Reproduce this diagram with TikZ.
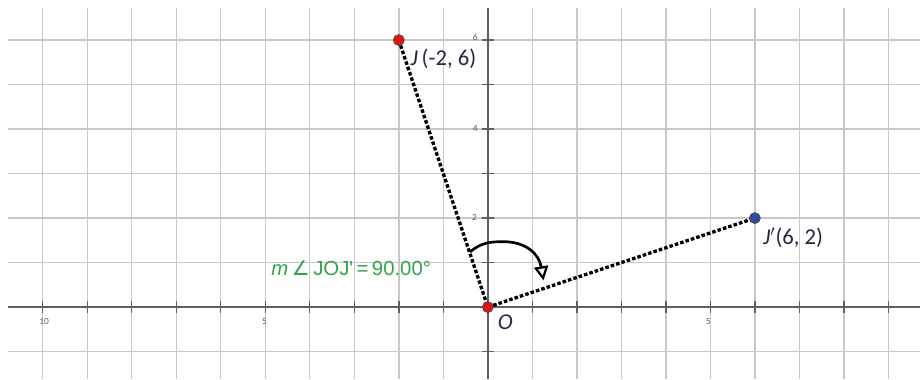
\documentclass[tikz,border=0pt]{standalone}
\usepackage{fontspec}
\setmainfont{Carlito}
\newfontfamily\arialf{Liberation Sans}
\newfontfamily\dejavuf{DejaVu Sans}
\usetikzlibrary{arrows.meta}
\definecolor{gridgray}{RGB}{200,200,200}
\definecolor{axisgray}{RGB}{95,95,95}
\definecolor{labcol}{RGB}{40,40,65}
\definecolor{measgreen}{RGB}{50,165,80}
\definecolor{ptred}{RGB}{225,20,20}
\definecolor{ptblue}{RGB}{45,75,160}
\tikzset{
  gridline/.style={gridgray, line width=0.9pt},
  axisline/.style={axisgray, line width=0.9pt},
  ticklab/.style={font=\fontsize{6}{6}\selectfont, text=axisgray, inner sep=0pt},
  ptlab/.style={font=\fontsize{14.5}{15}\selectfont, text=labcol, inner sep=0pt, anchor=west},
  segment/.style={black, line width=2.1pt, dash pattern=on 2.3pt off 1.3pt},
  dotnode/.style={circle, draw=black!70, line width=0.5pt, inner sep=0pt, minimum size=7pt},
}
\begin{document}
\begin{tikzpicture}[x=1cm,y=1cm]
\useasboundingbox (-10.96,-1.62) rectangle (9.71,6.90);
\fill[white] (-10.96,-1.62) rectangle (9.71,6.90);
% grid
\foreach \x in {-10,...,9} \draw[gridline] (\x,-1.62) -- (\x,6.72);
\foreach \y in {-1,...,6} \draw[gridline] (-10.78,\y) -- (9.71,\y);
% axes
\draw[axisline] (-10.78,0) -- (9.71,0);
\draw[axisline] (0,-1.62) -- (0,6.72);
\foreach \x in {-10,...,9} \draw[axisline] (\x,-0.13) -- (\x,0.13);
\foreach \y in {-1,...,6} \draw[axisline] (-0.13,\y) -- (0.13,\y);
% tick labels
\node[ticklab] (tm10) at (-9.97,-0.33) {10};
\node[ticklab] (tm5) at (-5.02,-0.33) {5};
\node[ticklab] (tp5) at (4.95,-0.33) {5};
\node[ticklab] (ty6) at (-0.28,6.06) {6};
\node[ticklab] (ty4) at (-0.28,4.02) {4};
\node[ticklab] (ty2) at (-0.30,2.02) {2};
% points
\coordinate (J) at (-2,6);
\coordinate (O) at (0,0);
\coordinate (Jp) at (6,2);
\draw[segment] (J) -- (O);
\draw[segment] (O) -- (Jp);
\node[dotnode, fill=ptred] (Jdot) at (J) {};
\node[dotnode, fill=ptred] (Odot) at (O) {};
\node[dotnode, fill=ptblue] (Jpdot) at (Jp) {};
% labels
\node[ptlab] (Jlab) at (-1.74,5.58) {\textit{J}\,(-2, 6)};
\node[ptlab] (Jplab) at (6.18,1.55) {\textit{J}$'$(6, 2)};
\node[ptlab] (Olab) at (0.22,-0.33) {\textit{O}};
\node[font=\arialf\fontsize{13}{14}\selectfont, text=measgreen, inner sep=0pt] (meas) at (-3.07,0.87) {\textit{m}\,{\dejavuf ∠}\,JOJ'\,=\,90.00°};
% rotation arrow
\coordinate (arcS) at (-0.40,1.24);
\coordinate (arcT) at (1.25,0.60);
\draw[black, line width=1.7pt, -{Triangle[open, length=9pt, width=9pt, line width=1.4pt]}]
  (arcS) .. controls (-0.15,1.45) and (0.05,1.47) .. (0.35,1.47)
  .. controls (0.85,1.47) and (1.15,1.2) .. (arcT);
\end{tikzpicture}
\end{document}
